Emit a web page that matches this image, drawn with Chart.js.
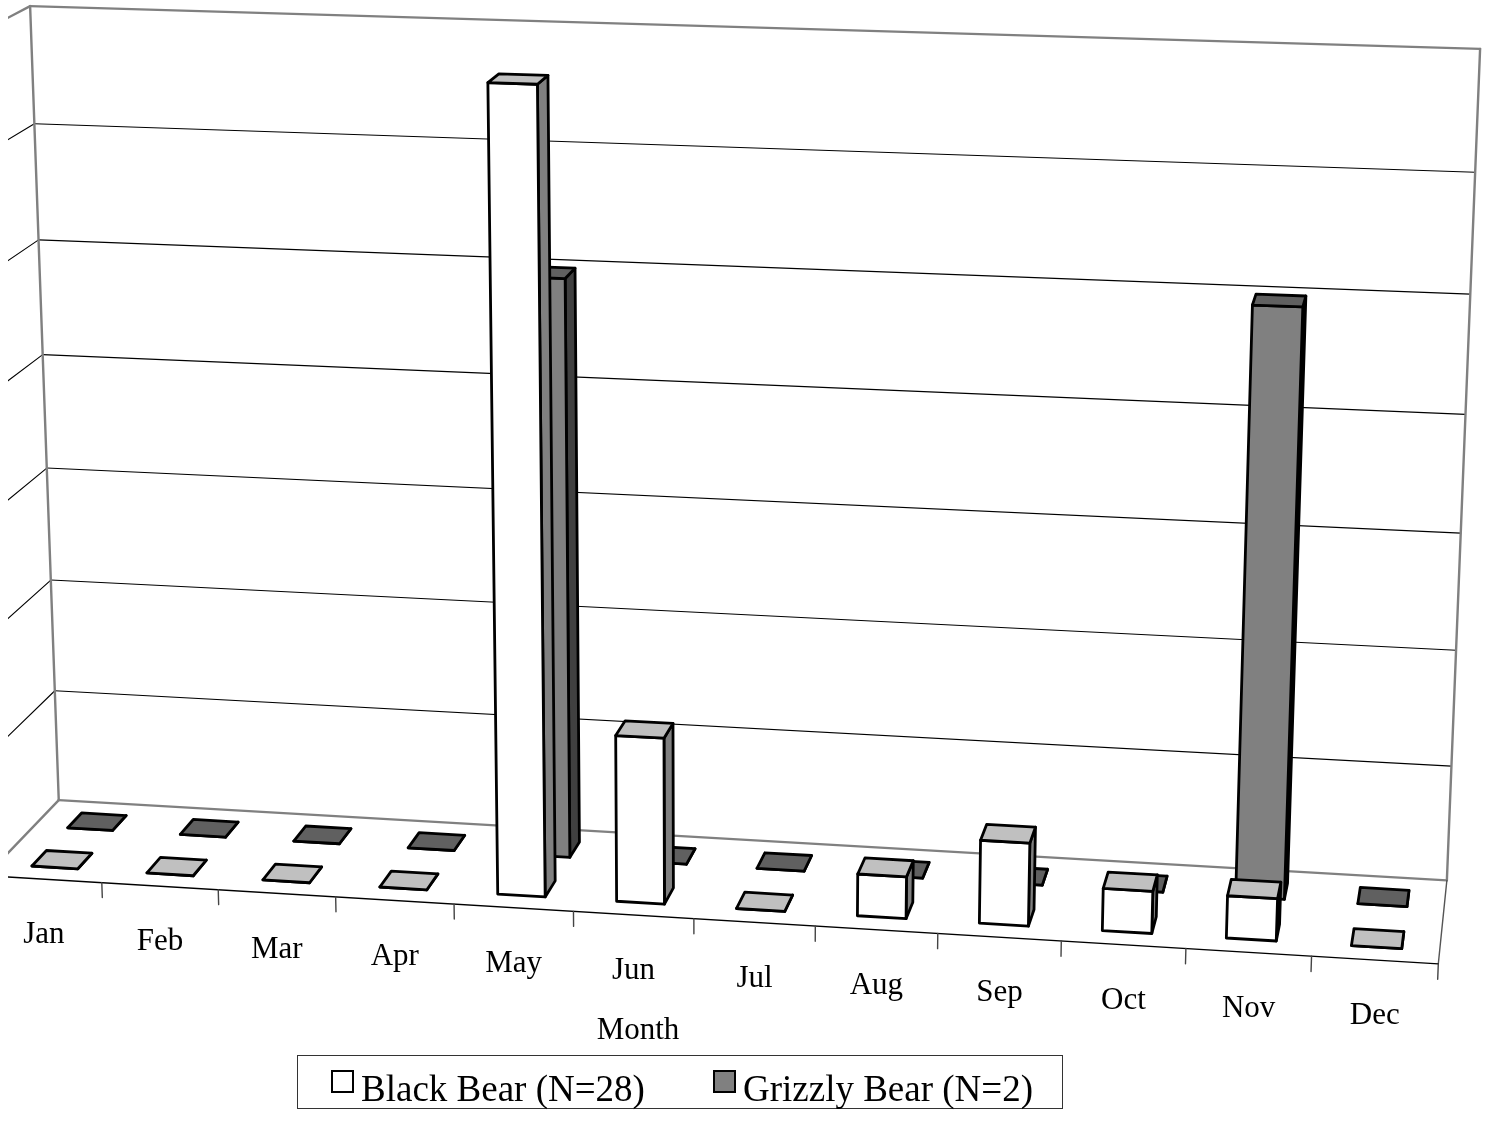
<!DOCTYPE html>
<html>
<head>
<meta charset="utf-8">
<script src="https://cdn.jsdelivr.net/npm/chart.js@4.4.0/dist/chart.umd.min.js"></script>
<style>
    html, body { margin: 0; padding: 0; background: #fff; }
    #wrap { width: 1486px; height: 1121px; }
</style>
</head>
<body>
<div id="wrap"><canvas id="bearChart"></canvas></div>
<script>
// data (percent of records per month)
const months = ['Jan', 'Feb', 'Mar', 'Apr', 'May', 'Jun', 'Jul', 'Aug', 'Sep', 'Oct', 'Nov', 'Dec']
const blackBear = [0, 0, 0, 0, 67.9, 14.3, 0, 3.6, 7.1, 3.6, 3.6, 0]
const grizzlyBear = [0, 0, 0, 0, 50, 0, 0, 0, 0, 0, 50, 0]
const seriesNames = ['Black Bear (N=28)', 'Grizzly Bear (N=2)']
const yMax = 70
const yStep = 10
const xTitle = 'Month'

const nCats = months.length
const depthRows = 2

// calibration of the 3D view: [category, value, depth row, screen x, screen y]
const viewPoints = [
    [0, 70, 2, 30, 6],
    [12, 70, 2, 1480, 49],
    [12, 0, 2, 1447, 881],
    [0, 0, 2, 58, 800],
    [0, 30, 2, 47, 468],
    [12, 30, 2, 1461, 533],
    [12, 0, 0, 1438, 964],
    [1, 0, 0, 100, 883],
    [6, 0, 0, 694, 919],
    [11, 0, 0, 1311, 956],
    [4.3, 0, 0.3, 497, 894],
    [4.7, 0, 0.3, 546, 897],
    [10.3, 0, 0.3, 1226, 938],
    [10.7, 0, 0.3, 1276, 941],
    [0.3, 0, 0.3, 33, 866],
    [0.7, 0, 0.7, 93, 853],
    [0.3, 0, 1.3, 68, 828],
    [11.3, 0, 0.3, 1352, 945],
    [11.7, 0, 0.3, 1403, 949],
    [11.3, 0, 1.3, 1357, 903],
]

function fitCamera(points) {
    const N = Array.from({ length: 11 }, () => new Array(11).fill(0))
    const r = new Array(11).fill(0)
    const addRow = (a, b) => {
        for (let i = 0; i < 11; i++) {
            r[i] += a[i] * b
            for (let j = 0; j < 11; j++) N[i][j] += a[i] * a[j]
        }
    }
    points.forEach(([X, Y, Z, u, v]) => {
        const x = X / nCats, y = Y / yMax, z = Z / depthRows
        const su = u / 1000, sv = v / 1000
        addRow([x, y, z, 1, 0, 0, 0, 0, -su * x, -su * y, -su * z], su)
        addRow([0, 0, 0, 0, x, y, z, 1, -sv * x, -sv * y, -sv * z], sv)
    })
    for (let c = 0; c < 11; c++) {
        let piv = c
        for (let k = c + 1; k < 11; k++) if (Math.abs(N[k][c]) > Math.abs(N[piv][c])) piv = k
        ;[N[c], N[piv]] = [N[piv], N[c]]
        ;[r[c], r[piv]] = [r[piv], r[c]]
        for (let k = c + 1; k < 11; k++) {
            const f = N[k][c] / N[c][c]
            for (let j = c; j < 11; j++) N[k][j] -= f * N[c][j]
            r[k] -= f * r[c]
        }
    }
    const p = new Array(11).fill(0)
    for (let c = 10; c >= 0; c--) {
        let s = r[c]
        for (let j = c + 1; j < 11; j++) s -= N[c][j] * p[j]
        p[c] = s / N[c][c]
    }
    return p
}

const cam = fitCamera(viewPoints)

function project(X, Y, Z) {
    const x = X / nCats, y = Y / yMax, z = Z / depthRows
    const w = cam[8] * x + cam[9] * y + cam[10] * z + 1
    return [
        (cam[0] * x + cam[1] * y + cam[2] * z + cam[3]) / w * 1000,
        (cam[4] * x + cam[5] * y + cam[6] * z + cam[7]) / w * 1000
    ]
}

function line3d(ctx, a, b, color, width) {
    const p = project(...a), q = project(...b)
    ctx.beginPath()
    ctx.moveTo(p[0], p[1])
    ctx.lineTo(q[0], q[1])
    ctx.strokeStyle = color
    ctx.lineWidth = width
    ctx.stroke()
}

function face(ctx, pts, fill) {
    ctx.beginPath()
    pts.forEach((pt, i) => {
        const p = project(...pt)
        if (i === 0) ctx.moveTo(p[0], p[1])
        else ctx.lineTo(p[0], p[1])
    })
    ctx.closePath()
    ctx.fillStyle = fill
    ctx.fill()
    ctx.stroke()
}

const bars3d = {
    id: 'bars3d',
    beforeDraw(chart) {
        const ctx = chart.ctx
        const yScale = chart.scales.y
        ctx.save()
        ctx.fillStyle = '#fff'
        ctx.fillRect(0, 0, chart.width, chart.height)
        ctx.beginPath()
        ctx.rect(8, 0, chart.width, chart.height)
        ctx.clip()
        ctx.lineCap = 'round'

        // gridlines on back wall and left wall
        yScale.ticks.forEach(t => {
            const v = t.value
            if (v === 0 || v === yMax) return
            line3d(ctx, [0, v, depthRows], [nCats, v, depthRows], '#000', 1.1)
            line3d(ctx, [0, v, depthRows], [0, v, 0], '#000', 1.1)
        })

        // frame of walls and floor
        const g = '#808080'
        line3d(ctx, [0, yMax, depthRows], [nCats, yMax, depthRows], g, 2.4)
        line3d(ctx, [0, 0, depthRows], [0, yMax, depthRows], g, 2.4)
        line3d(ctx, [nCats, 0, depthRows], [nCats, yMax, depthRows], g, 2.4)
        line3d(ctx, [0, 0, depthRows], [nCats, 0, depthRows], g, 2.4)
        line3d(ctx, [0, yMax, depthRows], [0, yMax, 0], g, 2.4)
        line3d(ctx, [0, 0, depthRows], [0, 0, 0], g, 2.4)
        line3d(ctx, [nCats, 0, depthRows], [nCats, 0, 0], '#555', 1.4)
        line3d(ctx, [0, 0, 0], [nCats, 0, 0], '#000', 1.4)

        // category ticks under the front edge
        for (let i = 1; i <= nCats; i++) {
            line3d(ctx, [i, 0, 0], [i, -1.3, 0], '#444', 1.4)
        }
        ctx.restore()
    },
    beforeDatasetsDraw(chart) {
        const ctx = chart.ctx
        const area = chart.chartArea
        const yScale = chart.scales.y
        const catW = area.width / nCats
        ctx.save()
        ctx.lineWidth = 2.8
        ctx.lineJoin = 'round'
        ctx.strokeStyle = '#000'
        // back row first, then front row
        for (let d = chart.data.datasets.length - 1; d >= 0; d--) {
            const ds = chart.data.datasets[d]
            const meta = chart.getDatasetMeta(d)
            const z0 = d + 0.3, z1 = d + 0.7
            meta.data.forEach(el => {
                const p = el.getProps(['x', 'y', 'base', 'width'], true)
                const x0 = (p.x - p.width / 2 - area.left) / catW
                const x1 = (p.x + p.width / 2 - area.left) / catW
                const top = yScale.getValueForPixel(p.y)
                const bot = yScale.getValueForPixel(p.base)
                face(ctx, [[x1, bot, z0], [x1, bot, z1], [x1, top, z1], [x1, top, z0]], ds.sideColor)
                face(ctx, [[x0, bot, z0], [x1, bot, z0], [x1, top, z0], [x0, top, z0]], ds.backgroundColor)
                face(ctx, [[x0, top, z0], [x1, top, z0], [x1, top, z1], [x0, top, z1]], ds.topColor)
            })
        }
        ctx.restore()
        return false
    },
    afterDraw(chart) {
        const ctx = chart.ctx
        const area = chart.chartArea
        const xScale = chart.scales.x
        const catW = area.width / nCats
        ctx.save()
        ctx.fillStyle = '#000'
        ctx.font = '31px "Liberation Serif", "Times New Roman", serif'
        ctx.textAlign = 'center'
        ctx.textBaseline = 'middle'
        xScale.ticks.forEach((t, i) => {
            const X = (xScale.getPixelForTick(i) - area.left) / catW
            const p = project(X, 0, 0)
            ctx.fillText(months[i], p[0], p[1] + 56)
        })
        ctx.fillText(xTitle, 638, 1031)

        // legend
        ctx.strokeStyle = '#333'
        ctx.lineWidth = 1
        ctx.strokeRect(297.5, 1055.5, 765, 53)
        ctx.font = '37px "Liberation Serif", "Times New Roman", serif'
        ctx.textAlign = 'left'
        ctx.textBaseline = 'alphabetic'
        const itemX = [332, 714]
        chart.data.datasets.forEach((ds, i) => {
            ctx.fillStyle = ds.backgroundColor
            ctx.fillRect(itemX[i], 1071, 21, 21)
            ctx.strokeStyle = '#000'
            ctx.lineWidth = 2
            ctx.strokeRect(itemX[i], 1071, 21, 21)
            ctx.fillStyle = '#000'
            ctx.fillText(ds.label, itemX[i] + 29, 1101)
        })
        ctx.restore()
    }
}

const ctx = document.getElementById('bearChart').getContext('2d')
const bearChart = new Chart(ctx, {
    type: 'bar',
    data: {
        labels: months,
        datasets: [{
            label: seriesNames[0],
            data: blackBear,
            backgroundColor: '#ffffff',
            topColor: '#c0c0c0',
            sideColor: '#808080',
            borderColor: '#000'
        }, {
            label: seriesNames[1],
            data: grizzlyBear,
            backgroundColor: '#808080',
            topColor: '#606060',
            sideColor: '#404040',
            borderColor: '#000'
        }]
    },
    options: {
        responsive: true,
        maintainAspectRatio: false,
        animation: false,
        datasets: {
            bar: { barPercentage: 0.4, categoryPercentage: 1.0, grouped: false }
        },
        layout: { padding: { left: 40, right: 40, top: 20, bottom: 200 } },
        scales: {
            x: { display: false },
            y: { display: false, min: 0, max: yMax, ticks: { stepSize: yStep } }
        },
        plugins: {
            legend: { display: false },
            tooltip: { enabled: false }
        }
    },
    plugins: [bars3d]
})
</script>
</body>
</html>
